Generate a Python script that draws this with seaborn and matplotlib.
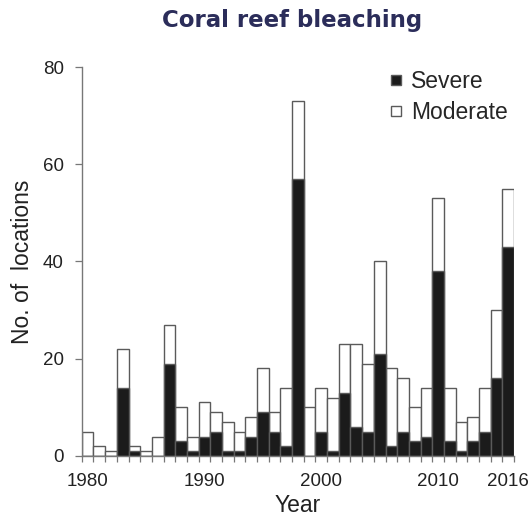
import numpy as np
import pandas as pd
import matplotlib
matplotlib.use("Agg")
import matplotlib.pyplot as plt
from matplotlib.lines import Line2D
import seaborn as sns

# Bleaching reports per year
years = list(range(1980, 2017))
total = [5, 2, 1, 22, 2, 1, 4, 27, 10, 4, 11, 9, 7, 5, 8, 18, 9, 14, 73, 10,
         14, 12, 23, 23, 19, 40, 18, 16, 10, 14, 53, 14, 7, 8, 14, 30, 55]
severe = [0, 0, 0, 14, 1, 0, 0, 19, 3, 1, 4, 5, 1, 1, 4, 9, 5, 2, 57, 0,
          5, 1, 13, 6, 5, 21, 2, 5, 3, 4, 38, 3, 1, 3, 5, 16, 43]
labelled_years = [1980, 1990, 2000, 2010, 2016]
y_ticks = [0, 20, 40, 60, 80]

df = pd.DataFrame({"Year": years, "Total": total, "Severe": severe})

sns.set_style("white")
plt.rcParams["font.family"] = ["Liberation Sans", "DejaVu Sans"]

fig = plt.figure(figsize=(5.31, 5.21), dpi=100)
ax = fig.add_axes([0.154, 0.1248, 0.814, 0.7466])

edge = "#5a5a5a"
dark = "#1b1b1b"
# white bar = all locations (moderate on top), black bar = severe part
sns.barplot(data=df, x="Year", y="Total", native_scale=True, width=1,
            color="white", saturation=1, edgecolor=edge, linewidth=1.0, ax=ax)
sns.barplot(data=df, x="Year", y="Severe", native_scale=True, width=1,
            color=dark, saturation=1, edgecolor=edge, linewidth=1.0, ax=ax)

ax.set_xlim(years[0] - 0.5, years[-1] + 0.5)
ax.set_ylim(0, 80)

# tick marks at every bar boundary, labels under the selected years
bounds = np.arange(years[0] - 0.5, years[-1] + 1.0, 1.0)
ax.set_xticks(bounds, minor=True)
ax.set_xticks(labelled_years)
ax.set_xticklabels([str(y) for y in labelled_years])
ax.set_yticks(y_ticks)

ax.tick_params(axis="x", which="minor", direction="out", length=4, width=0.9,
               color="#777777", bottom=True)
ax.tick_params(axis="x", which="major", length=0, labelsize=13.5,
               labelcolor="#222222", pad=12, bottom=True)
ax.tick_params(axis="y", direction="out", length=5, width=0.9, color="#777777",
               labelsize=13.5, labelcolor="#222222", pad=8, left=True)

for side in ["top", "right"]:
    ax.spines[side].set_visible(False)
for side in ["left", "bottom"]:
    ax.spines[side].set_color("#777777")
    ax.spines[side].set_linewidth(1.0)

ax.set_xlabel("Year", fontsize=16.5, color="#222222", labelpad=3)
ax.set_ylabel("No. of  locations", fontsize=16.5, color="#222222", labelpad=6)

handles = [Line2D([], [], linestyle="none", marker="s", markersize=7.5,
                  markerfacecolor=dark, markeredgecolor=edge,
                  markeredgewidth=1.0, label="Severe"),
           Line2D([], [], linestyle="none", marker="s", markersize=7.5,
                  markerfacecolor="white", markeredgecolor=edge,
                  markeredgewidth=1.0, label="Moderate")]
fig.legend(handles=handles, loc="upper left", bbox_to_anchor=(0.736, 0.866),
           frameon=False, fontsize=16.5, handlelength=0.45,
           handletextpad=0.45, labelspacing=0.35, borderpad=0.0,
           borderaxespad=0.0)

fig.text(0.55, 0.948, "Coral reef bleaching", ha="center", va="baseline",
         fontsize=16.5, fontweight="bold", color="#2b2d5a",
         family=["DejaVu Sans"])

fig.savefig("out.png", dpi=100)
